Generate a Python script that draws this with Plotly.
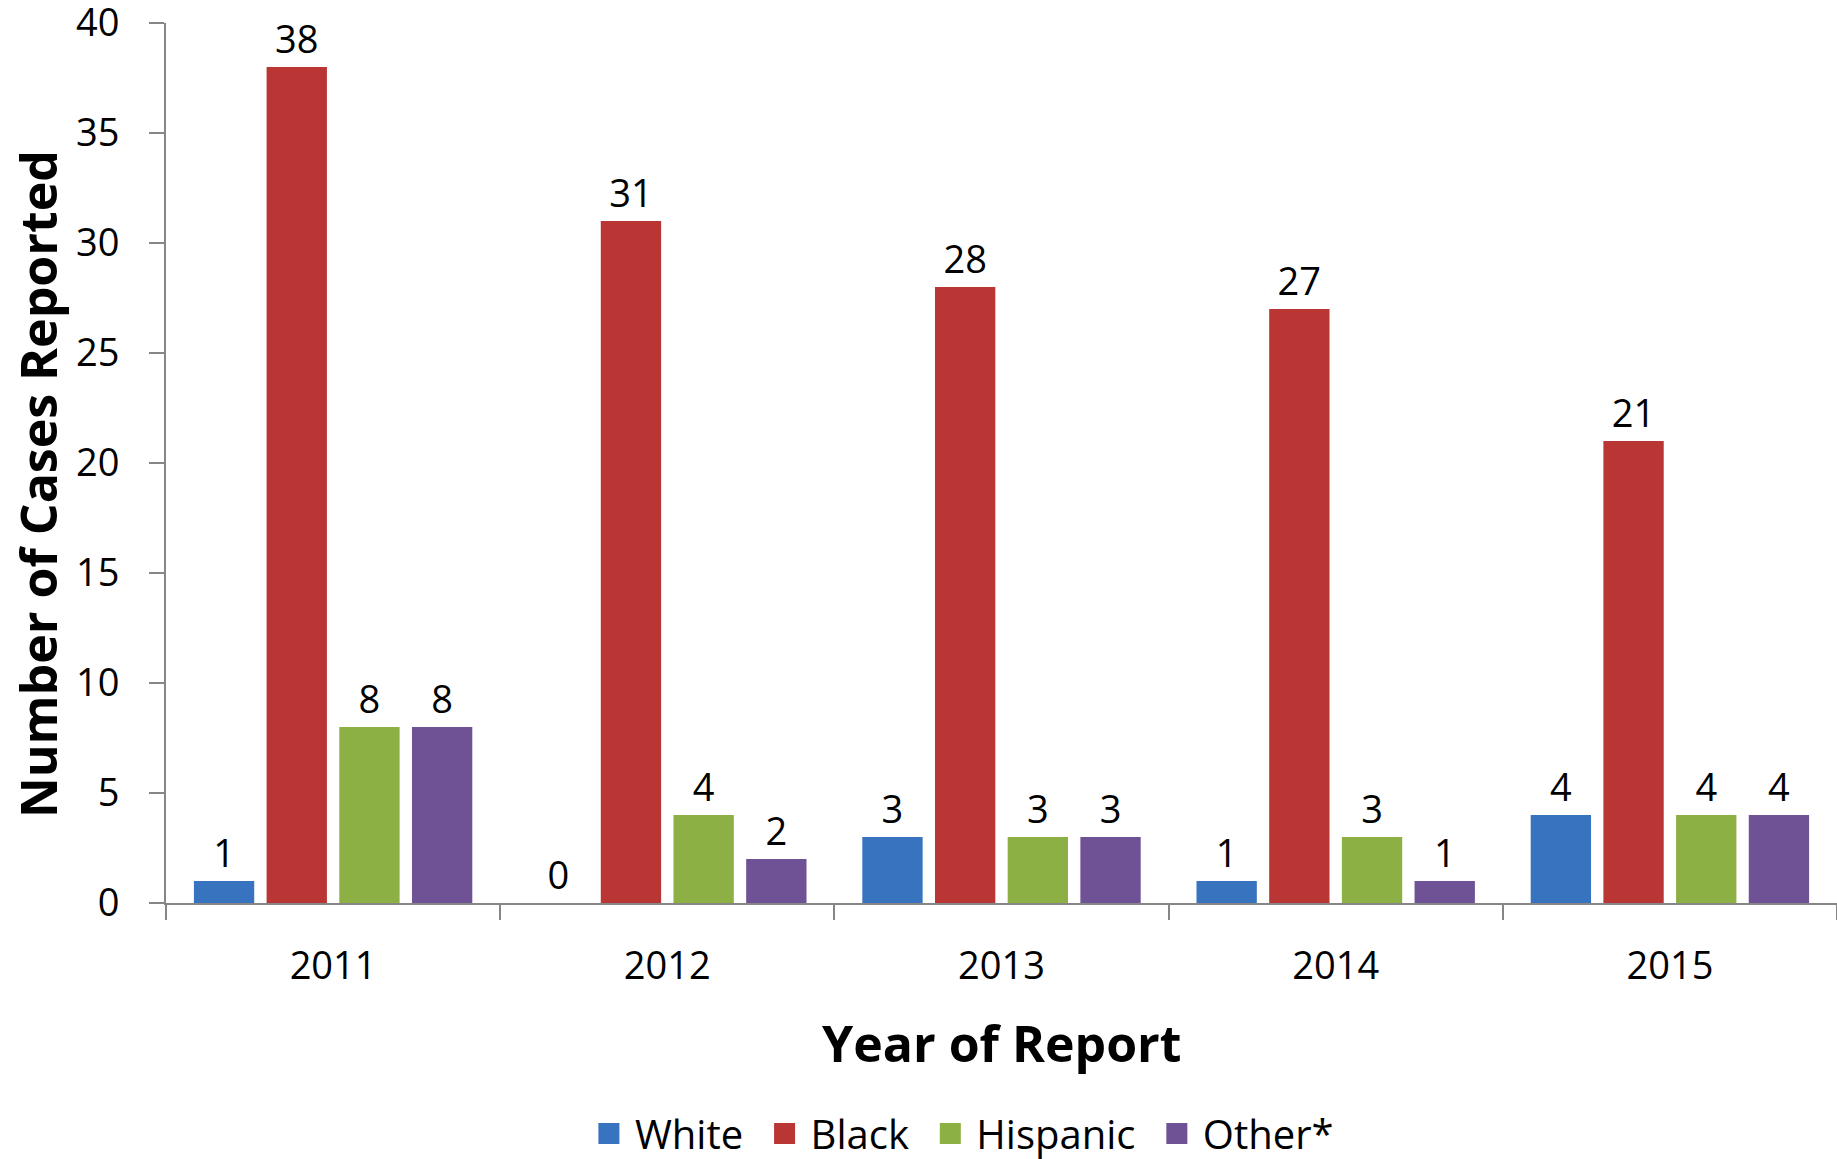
import plotly.graph_objects as go

years = ["2011", "2012", "2013", "2014", "2015"]
white = [1, 0, 3, 1, 4]
black = [38, 31, 28, 27, 21]
hispanic = [8, 4, 3, 3, 4]
other = [8, 2, 3, 1, 4]

series_names = ["White", "Black", "Hispanic", "Other*"]
series_values = [white, black, hispanic, other]
series_colors = ["#3773BE", "#B93634", "#8CB043", "#6F5196"]

FONT = "Open Sans"
NBSP = "\u00a0"

fig = go.Figure()
for name, vals, col in zip(series_names, series_values, series_colors):
    fig.add_trace(go.Bar(
        x=years, y=vals, name=name, marker=dict(color=col, line=dict(width=0)),
        text=[str(v) for v in vals], textposition="outside", cliponaxis=False,
        textfont=dict(family=FONT, size=38, color="#000000"),
        showlegend=False,
    ))
    # legend swatch entries
    fig.add_trace(go.Scatter(
        x=[None], y=[None], mode="markers", name=name + NBSP,
        marker=dict(symbol="square", size=16, color=col, line=dict(color=col, width=5)),
        showlegend=True,
    ))

fig.update_layout(
    template="none",
    width=1837, height=1159,
    margin=dict(l=166, r=0, t=23, b=256, autoexpand=False),
    paper_bgcolor="white", plot_bgcolor="white",
    barmode="group", bargap=0.13, bargroupgap=0.17,
    font=dict(family=FONT, size=38, color="#000000"),
    showlegend=True,
    legend=dict(orientation="h", x=0.479, xanchor="center", y=(903 - 1166) / 880, yanchor="bottom",
                font=dict(family=FONT, size=40, color="#000000"), itemsizing="trace",
                itemwidth=42, bgcolor="rgba(0,0,0,0)", borderwidth=0),
    xaxis=dict(
        type="category", showline=True, linecolor="#868686", linewidth=2,
        ticks="outside", tickson="boundaries", ticklen=15, tickcolor="#868686", tickwidth=2,
        tickfont=dict(family=FONT, size=38), showgrid=False, zeroline=False,
        ticklabelstandoff=28, automargin=False,
    ),
    yaxis=dict(
        range=[0, 40], dtick=5, showline=True, linecolor="#868686", linewidth=2,
        ticks="outside", ticklen=15, tickcolor="#868686", tickwidth=2,
        tickfont=dict(family=FONT, size=38), showgrid=False, zeroline=False,
        ticklabelstandoff=22, automargin=False, ticklabeloverflow="allow",
    ),
    annotations=[
        dict(text="<b>Year of Report</b>", xref="paper", yref="paper", x=0.5, y=(903 - 1043) / 880,
             xanchor="center", yanchor="middle", showarrow=False,
             font=dict(family=FONT, size=50, color="#000000")),
        dict(text="<b>Number of Cases Reported</b>", xref="paper", yref="paper",
             x=(38 - 166) / 1671, y=(903 - 484) / 880, textangle=-90,
             xanchor="center", yanchor="middle", showarrow=False,
             font=dict(family=FONT, size=50, color="#000000")),
    ],
)

fig.write_html(
    "out.html",
    config={"displayModeBar": False},
    post_script="document.body.style.margin='0';document.body.style.overflow='hidden';",
)
